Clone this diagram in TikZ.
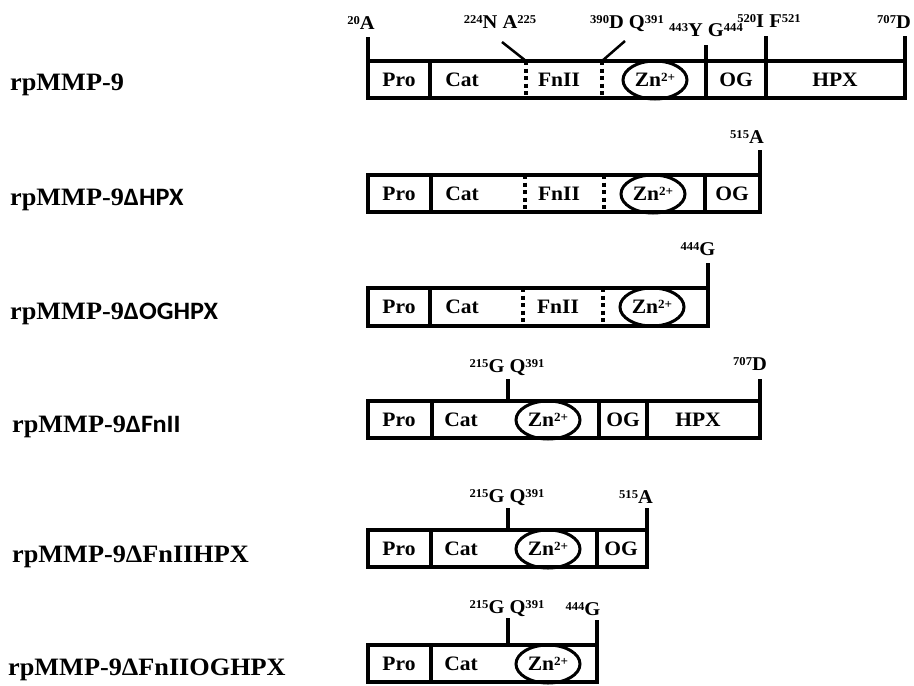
\documentclass[tikz,border=0pt]{standalone}
\usepackage{fontspec}
\setmainfont[FakeStretch=1.05]{Liberation Serif}
\newfontfamily\sansbold[FakeStretch=1.05]{Carlito}
\usetikzlibrary{shapes.geometric}

\newcommand{\upnum}[1]{\raisebox{5pt}{\fontsize{12}{12}\selectfont #1}}
\newcommand{\zinc}{Zn\raisebox{5.5pt}{\fontsize{12.5}{12.5}\selectfont 2+}}

\tikzset{
  barbox/.style={line width=3.5pt},
  dotdiv/.style={line width=4pt, dash pattern=on 4pt off 3.5pt},
  sitetick/.style={line width=3.5pt},
  slant/.style={line width=2.5pt},
  dom/.style={font=\fontsize{20.5}{20.5}\selectfont\bfseries},
  znring/.style={dom, draw, ellipse, line width=3pt, minimum width=64pt,
    minimum height=38pt, inner sep=0pt},
  sitelabel/.style={anchor=base, inner sep=0pt, font=\fontsize{19.5}{19.5}\selectfont\bfseries},
  rowname/.style={anchor=base west, inner sep=0pt, font=\fontsize{25}{25}\selectfont\bfseries}
}

\begin{document}
\begin{tikzpicture}[x=1pt, y=-1pt]
\useasboundingbox (0,0) rectangle (914,686);

% rpMMP-9
\node[rowname] (n1) at (10,90) {rpMMP-9};
\draw[barbox] (368,61) rectangle (905,98);
\draw[barbox] (430,61) -- (430,98);
\draw[dotdiv] (526,61) -- (526,98);
\draw[dotdiv] (602,61) -- (602,98);
\draw[barbox] (706,61) -- (706,98);
\draw[barbox] (766,61) -- (766,98);
\node[dom] (p1) at (399,80) {Pro};
\node[dom] (c1) at (462,80) {Cat};
\node[dom] (f1) at (559,80) {FnII};
\node[znring] (z1) at (655,80) {\zinc};
\node[dom] (o1) at (736,80) {OG};
\node[dom] (h1) at (835,80) {HPX};
\coordinate (r1a) at (368,37);
\coordinate (r1b) at (502,42);
\coordinate (r1c) at (625,41);
\coordinate (r1d) at (706,45);
\coordinate (r1e) at (766,36);
\coordinate (r1f) at (905,36);
\draw[sitetick] (r1a) -- ++(0,24);
\draw[slant] (r1b) -- (526,61);
\draw[slant] (r1c) -- (602,61);
\draw[sitetick] (r1d) -- ++(0,16);
\draw[sitetick] (r1e) -- ++(0,25);
\draw[sitetick] (r1f) -- ++(0,25);
\node[sitelabel] (l1a) at (361,29) {\upnum{20}A};
\node[sitelabel] (l1b) at (500,28) {\upnum{224}N A\upnum{225}};
\node[sitelabel] (l1c) at (627,28) {\upnum{390}D Q\upnum{391}};
\node[sitelabel] (l1d) at (706,36) {\upnum{443}Y G\upnum{444}};
\node[sitelabel] (l1e) at (769,27) {\upnum{520}I F\upnum{521}};
\node[sitelabel] (l1f) at (894,28) {\upnum{707}D};

% rpMMP-9 delta HPX
\node[rowname] (n2) at (10,205) {rpMMP-9{\sansbold ΔHPX}};
\draw[barbox] (368,175) rectangle (760,212);
\draw[barbox] (431,175) -- (431,212);
\draw[dotdiv] (525,175) -- (525,212);
\draw[dotdiv] (604,175) -- (604,212);
\draw[barbox] (705,175) -- (705,212);
\node[dom] (p2) at (399,194) {Pro};
\node[dom] (c2) at (462,194) {Cat};
\node[dom] (f2) at (559,194) {FnII};
\node[znring] (z2) at (653,194) {\zinc};
\node[dom] (o2) at (732,194) {OG};
\coordinate (r2a) at (760,150);
\draw[sitetick] (r2a) -- ++(0,25);
\node[sitelabel] (l2a) at (747,143) {\upnum{515}A};

% rpMMP-9 delta OGHPX
\node[rowname] (n3) at (10,319) {rpMMP-9{\sansbold ΔOGHPX}};
\draw[barbox] (368,288) rectangle (708,326);
\draw[barbox] (430,288) -- (430,326);
\draw[dotdiv] (523,288) -- (523,326);
\draw[dotdiv] (603,288) -- (603,326);
\node[dom] (p3) at (399,307) {Pro};
\node[dom] (c3) at (462,307) {Cat};
\node[dom] (f3) at (558,307) {FnII};
\node[znring] (z3) at (652,307) {\zinc};
\coordinate (r3a) at (708,263);
\draw[sitetick] (r3a) -- ++(0,25);
\node[sitelabel] (l3a) at (698,255) {\upnum{444}G};

% rpMMP-9 delta FnII
\node[rowname] (n4) at (12,432) {rpMMP-9{\sansbold ΔFnII}};
\draw[barbox] (368,401) rectangle (760,438);
\draw[barbox] (432,401) -- (432,438);
\draw[barbox] (599,401) -- (599,438);
\draw[barbox] (647,401) -- (647,438);
\node[dom] (p4) at (399,420) {Pro};
\node[dom] (c4) at (461,420) {Cat};
\node[znring] (z4) at (548,420) {\zinc};
\node[dom] (o4) at (623,420) {OG};
\node[dom] (h4) at (698,420) {HPX};
\coordinate (r4a) at (508,379);
\coordinate (r4b) at (760,379);
\draw[sitetick] (r4a) -- ++(0,22);
\draw[sitetick] (r4b) -- ++(0,22);
\node[sitelabel] (l4a) at (507,372) {\upnum{215}G Q\upnum{391}};
\node[sitelabel] (l4b) at (750,370) {\upnum{707}D};

% rpMMP-9 delta FnIIHPX
\node[rowname] (n5) at (12,562) {rpMMP-9ΔFnIIHPX};
\draw[barbox] (368,530) rectangle (647,567);
\draw[barbox] (431,530) -- (431,567);
\draw[barbox] (597,530) -- (597,567);
\node[dom] (p5) at (399,549) {Pro};
\node[dom] (c5) at (461,549) {Cat};
\node[znring] (z5) at (548,549) {\zinc};
\node[dom] (o5) at (621,549) {OG};
\coordinate (r5a) at (508,508);
\coordinate (r5b) at (647,508);
\draw[sitetick] (r5a) -- ++(0,22);
\draw[sitetick] (r5b) -- ++(0,22);
\node[sitelabel] (l5a) at (507,502) {\upnum{215}G Q\upnum{391}};
\node[sitelabel] (l5b) at (636,503) {\upnum{515}A};

% rpMMP-9 delta FnIIOGHPX
\node[rowname] (n6) at (8,675) {rpMMP-9ΔFnIIOGHPX};
\draw[barbox] (368,645) rectangle (597,682);
\draw[barbox] (431,645) -- (431,682);
\node[dom] (p6) at (399,664) {Pro};
\node[dom] (c6) at (461,664) {Cat};
\node[znring] (z6) at (548,664) {\zinc};
\coordinate (r6a) at (508,618);
\coordinate (r6b) at (597,620);
\draw[sitetick] (r6a) -- ++(0,27);
\draw[sitetick] (r6b) -- ++(0,25);
\node[sitelabel] (l6a) at (507,613) {\upnum{215}G Q\upnum{391}};
\node[sitelabel] (l6b) at (583,615) {\upnum{444}G};

\end{tikzpicture}
\end{document}
